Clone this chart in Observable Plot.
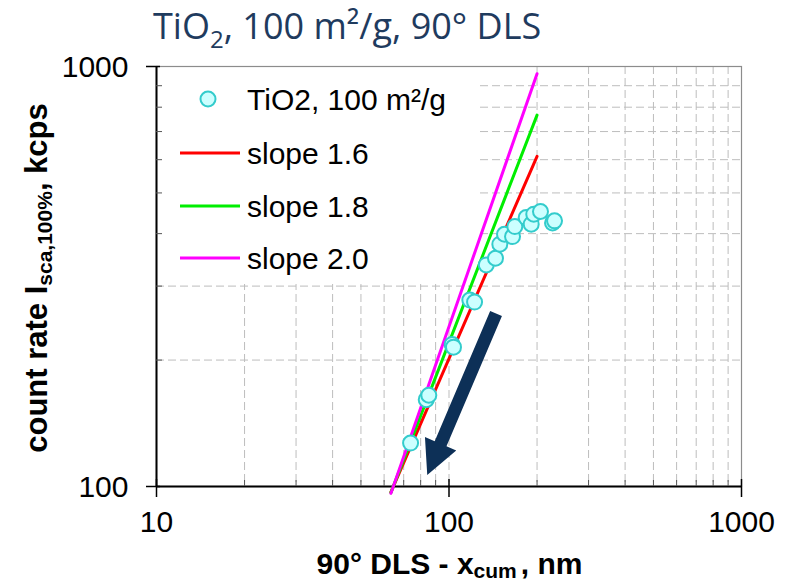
<!DOCTYPE html>
<html><head><meta charset="utf-8">
<script src="https://cdn.jsdelivr.net/npm/d3@7"></script>
<script src="https://cdn.jsdelivr.net/npm/@observablehq/plot@0.6"></script>
<style>body{margin:0;background:#fff;} #chart{width:788px;height:583px;}</style>
</head><body><div id="chart"></div>
<script>
// ---- data ----
const xMajorTicks = [10, 100, 1000];
const xMinorTicks = [20, 30, 40, 50, 60, 70, 80, 90, 200, 300, 400, 500, 600, 700, 800, 900];
const xGridLines = [20, 30, 40, 50, 60, 70, 80, 90, 100, 200, 300, 400, 500, 600, 700, 800, 900];
const yMajorTicks = [100, 1000];
const yMinorTicks = [200, 300, 400, 500, 600, 700, 800, 900];
const yGridLines = [200, 300, 400, 500, 600, 700, 800, 900];

const tio2X = [73.9, 83.6, 85.3, 102.5, 103.6, 117.8, 122.3, 134.1, 144.2, 149.2, 154.8, 164.9, 167.9, 183.6, 191.0, 194.9, 205.5, 225.9, 229.5];
const tio2Y = [126.9, 161.0, 164.9, 217.9, 214.7, 277.9, 274.9, 336.9, 349.5, 377.5, 398.7, 393.6, 415.8, 436.8, 421.3, 445.1, 451.6, 424.3, 429.0];

const slopeX = [63.3, 200];
const slope16Y = [97.0, 611];
const slope18Y = [96.7, 766];
const slope20Y = [96.3, 961];

const seriesLabels = ["TiO2, 100 m²/g", "slope 1.6", "slope 1.8", "slope 2.0"];
const seriesColors = ["#33cccc", "#ff0000", "#00ee00", "#ff00ff"];
const arrowStart = [145.4, 257.3];
const arrowEnd = [84.6, 106.2];

const titleParts = ["TiO", "2", ", 100 m²/g, 90° DLS"];
const yLabelParts = ["count rate I", "sca,100%", ", kcps"];
const xLabelParts = ["90° DLS - x", "cum", ", nm"];

// ---- tables ----
const tio2 = tio2X.map((x, i) => ({x, y: tio2Y[i]}));
const line16 = slopeX.map((x, i) => ({x, y: slope16Y[i]}));
const line18 = slopeX.map((x, i) => ({x, y: slope18Y[i]}));
const line20 = slopeX.map((x, i) => ({x, y: slope20Y[i]}));

const W = 788, H = 583, ML = 156, MR = 47, MT = 66, MB = 97;
const PW = W - ML - MR, PH = H - MT - MB;
const FONT = "'Liberation Sans', Arial, sans-serif";

function legendBg() {
  return () => d3.create("svg:rect")
    .attr("x", ML + 1).attr("y", MT + 1).attr("width", 322).attr("height", 217)
    .attr("fill", "white").node();
}

function legend() {
  return () => {
    const g = d3.create("svg:g").attr("font-family", FONT).attr("font-size", 30).attr("text-anchor", "start");
    const rows = [99, 153, 206, 258];
    seriesLabels.forEach((lab, i) => {
      const y = rows[i];
      if (i === 0) {
        g.append("circle").attr("cx", 208).attr("cy", y).attr("r", 7.5)
          .attr("fill", "#ccffff").attr("stroke", seriesColors[0]).attr("stroke-width", 2);
      } else {
        g.append("line").attr("x1", 180).attr("x2", 240).attr("y1", y).attr("y2", y)
          .attr("stroke", seriesColors[i]).attr("stroke-width", 3);
      }
      g.append("text").attr("x", 247).attr("y", y).attr("dy", "0.36em").attr("fill", "black").text(lab);
    });
    return g.node();
  };
}

function arrow() {
  return (index, scales) => {
    const x0 = scales.x(arrowStart[0]), y0 = scales.y(arrowStart[1]);
    const x1 = scales.x(arrowEnd[0]), y1 = scales.y(arrowEnd[1]);
    const dx = x1 - x0, dy = y1 - y0, L = Math.hypot(dx, dy);
    const ux = dx / L, uy = dy / L, nx = -uy, ny = ux;
    const hl = 34, hw = 17, sw = 6.4;
    const bx = x1 - ux * hl, by = y1 - uy * hl;
    const pts = [
      [x0 + nx * sw, y0 + ny * sw], [bx + nx * sw, by + ny * sw], [bx + nx * hw, by + ny * hw],
      [x1, y1],
      [bx - nx * hw, by - ny * hw], [bx - nx * sw, by - ny * sw], [x0 - nx * sw, y0 - ny * sw]
    ];
    return d3.create("svg:polygon").attr("points", pts.map(p => p.join(",")).join(" "))
      .attr("fill", "#0d3057").node();
  };
}

function labels() {
  return () => {
    const g = d3.create("svg:g");
    // title
    const t = g.append("text").attr("x", 153).attr("y", 39).attr("text-anchor", "start")
      .attr("font-family", "'Open Sans', sans-serif").attr("font-size", 36).attr("fill", "#1f3b5e");
    t.append("tspan").text(titleParts[0]);
    t.append("tspan").attr("font-size", 24).attr("dy", 9).text(titleParts[1]);
    t.append("tspan").attr("dy", -9).text(titleParts[2]);
    // y label
    const yl = g.append("text").attr("transform", `translate(47,${MT + PH / 2 + 2}) rotate(-90)`)
      .attr("text-anchor", "middle").attr("font-family", FONT).attr("font-weight", "bold")
      .attr("font-size", 31).attr("fill", "black");
    yl.append("tspan").text(yLabelParts[0]);
    yl.append("tspan").attr("font-size", 21).attr("dy", 5).text(yLabelParts[1]);
    yl.append("tspan").attr("dy", -5).text(yLabelParts[2]);
    // x label
    const xl = g.append("text").attr("x", ML + PW / 2 + 1).attr("y", 574)
      .attr("text-anchor", "middle").attr("font-family", FONT).attr("font-weight", "bold")
      .attr("font-size", 30).attr("fill", "black");
    xl.append("tspan").text(xLabelParts[0]);
    xl.append("tspan").attr("font-size", 21).attr("dy", 4).text(xLabelParts[1]);
    xl.append("tspan").attr("dy", -4).attr("dx", 4).text(xLabelParts[2]);
    return g.node();
  };
}

const chart = Plot.plot({
  width: W, height: H,
  marginLeft: ML, marginRight: MR, marginTop: MT, marginBottom: MB,
  x: {type: "log", domain: [10, 1000], axis: null},
  y: {type: "log", domain: [100, 1000], axis: null},
  style: {fontFamily: FONT, background: "white", overflow: "visible"},
  marks: [
    Plot.ruleX(xGridLines, {x: d => d, stroke: "#bdbdbd", strokeWidth: 1, strokeDasharray: "8,4"}),
    Plot.ruleY(yGridLines, {y: d => d, stroke: "#bdbdbd", strokeWidth: 1, strokeDasharray: "8,4"}),
    legendBg(),
    Plot.frame({stroke: "#8c8c8c", strokeWidth: 1.2}),
    Plot.ruleX([xMajorTicks[0]], {x: d => d, stroke: "black", strokeWidth: 2}),
    Plot.ruleY([yMajorTicks[0]], {y: d => d, stroke: "black", strokeWidth: 2}),
    Plot.ruleX(xMajorTicks, {x: d => d, stroke: "black", strokeWidth: 1.5, insetTop: PH - 7, insetBottom: -11}),
    Plot.ruleX(xMinorTicks, {x: d => d, stroke: "#555", strokeWidth: 1, insetTop: PH - 6}),
    Plot.ruleY(yMajorTicks, {y: d => d, stroke: "black", strokeWidth: 1.5, insetLeft: -10, insetRight: PW - 4}),
    Plot.ruleY(yMinorTicks, {y: d => d, stroke: "#555", strokeWidth: 1, insetRight: PW - 6}),
    Plot.text(xMajorTicks, {x: d => d, text: d => String(d), frameAnchor: "bottom", dy: 45, fontSize: 30, fill: "black"}),
    Plot.text(yMajorTicks, {y: d => d, text: d => String(d), frameAnchor: "left", dx: -28, dy: 1, textAnchor: "end", fontSize: 30, fill: "black"}),
    Plot.line(line16, {x: "x", y: "y", stroke: seriesColors[1], strokeWidth: 3}),
    Plot.line(line18, {x: "x", y: "y", stroke: seriesColors[2], strokeWidth: 3}),
    Plot.line(line20, {x: "x", y: "y", stroke: seriesColors[3], strokeWidth: 3}),
    Plot.dot(tio2, {x: "x", y: "y", r: 7.5, fill: "#ccffff", stroke: seriesColors[0], strokeWidth: 2}),
    arrow(),
    legend(),
    labels()
  ]
});
document.getElementById("chart").appendChild(chart);
</script>
</body></html>
